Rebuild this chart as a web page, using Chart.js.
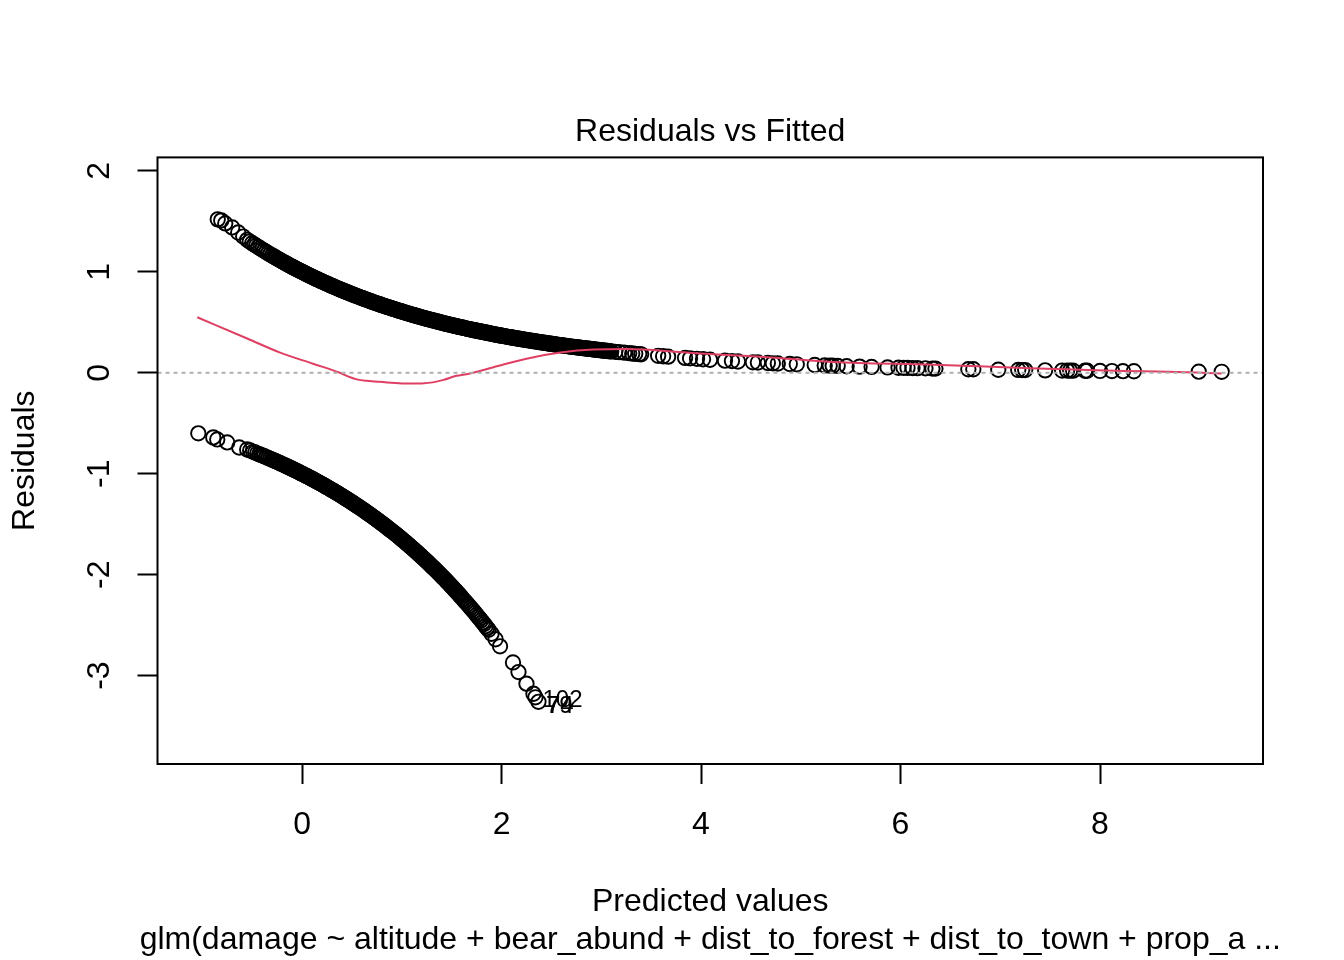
<!DOCTYPE html>
<html>
<head>
<meta charset="utf-8">
<title>Residuals vs Fitted</title>
<script src="https://cdn.jsdelivr.net/npm/chart.js@4"></script>
<style>
  html, body { margin: 0; padding: 0; background: #fff; }
  #wrap { position: relative; width: 1344px; height: 960px; }
</style>
</head>
<body>
<div id="wrap"><canvas id="chart"></canvas></div>
<script>
// the bands are overplotted so single points there are estimates along the band
const upperX = [-0.845,-0.81,-0.77,-0.70,-0.64,-0.59,-0.55,-0.50,-0.46,-0.42,-0.38,-0.34,-0.30,-0.27,-0.24,-0.21,-0.18,
  -0.15,-0.125,-0.10,-0.075,-0.05,-0.025,0,0.025,0.05,0.075,0.10,0.125,0.15,0.175,0.20,0.225,0.25,0.275,0.30,0.325,0.35,0.375,
  0.40,0.425,0.45,0.475,0.50,0.525,0.55,0.575,0.60,0.625,0.65,0.675,0.70,0.725,0.75,0.775,0.80,0.825,0.85,0.875,
  0.90,0.925,0.95,0.975,1.00,1.025,1.05,1.075,1.10,1.125,1.15,1.175,1.20,1.225,1.25,1.275,1.30,1.325,1.35,1.375,
  1.40,1.425,1.45,1.475,1.50,1.525,1.55,1.575,1.60,1.625,1.65,1.675,1.70,1.725,1.75,1.775,1.80,1.825,1.85,1.875,
  1.90,1.925,1.95,1.975,2.00,2.025,2.05,2.075,2.10,2.125,2.15,2.175,2.20,2.225,2.25,2.275,2.30,2.325,2.35,2.375,
  2.40,2.425,2.45,2.475,2.50,2.525,2.55,2.575,2.60,2.625,2.65,2.675,2.70,2.725,2.75,2.775,2.80,2.825,2.85,2.875,
  2.90,2.925,2.95,2.975,3.00,3.025,3.05,3.075,3.10,3.14,3.18,3.23,3.28,3.31,3.34,3.38,3.40,
  3.57,3.62,3.67,3.84,3.89,3.96,4.02,4.09,4.24,4.31,4.37,4.52,4.57,4.67,4.72,4.77,4.89,4.96,
  5.14,5.24,5.29,5.32,5.37,5.46,5.59,5.71,5.87,5.98,6.03,6.07,6.12,6.17,6.25,6.32,6.35,
  6.68,6.73,6.98,7.18,7.22,7.25,7.45,7.62,7.67,7.70,7.73,7.85,7.87,8.00,8.12,8.23,8.34,8.99,9.22];
const upperY = [1.52,1.51,1.48,1.44,1.39,1.35,1.317,1.284,1.259,1.234,1.209,1.185,1.162,1.145,1.127,1.110,1.094,
  1.078,1.064,1.051,1.038,1.025,1.013,1.000,0.988,0.975,0.963,0.951,0.939,0.928,0.916,0.905,0.894,0.882,0.872,0.861,0.850,0.839,0.829,
  0.819,0.809,0.799,0.789,0.779,0.769,0.760,0.750,0.741,0.732,0.723,0.714,0.705,0.696,0.687,0.679,0.670,0.662,0.654,0.646,
  0.638,0.630,0.622,0.614,0.607,0.599,0.592,0.584,0.577,0.570,0.563,0.556,0.549,0.542,0.535,0.529,0.522,0.516,0.509,0.503,
  0.497,0.490,0.484,0.478,0.472,0.466,0.461,0.455,0.449,0.444,0.438,0.433,0.427,0.422,0.417,0.412,0.407,0.402,0.397,0.392,
  0.387,0.382,0.377,0.372,0.368,0.363,0.359,0.354,0.350,0.345,0.341,0.337,0.333,0.329,0.325,0.321,0.317,0.313,0.309,0.305,
  0.301,0.298,0.294,0.290,0.287,0.283,0.279,0.276,0.273,0.269,0.266,0.262,0.259,0.256,0.253,0.250,0.247,0.244,0.240,0.238,
  0.235,0.232,0.229,0.226,0.223,0.220,0.218,0.215,0.212,0.208,0.204,0.199,0.194,0.191,0.188,0.185,0.183,
  0.168,0.164,0.160,0.147,0.143,0.138,0.134,0.129,0.120,0.116,0.112,0.104,0.102,0.097,0.094,0.092,0.087,0.084,
  0.077,0.073,0.071,0.070,0.068,0.065,0.061,0.058,0.053,0.050,0.049,0.048,0.047,0.046,0.044,0.042,0.042,
  0.035,0.035,0.030,0.028,0.027,0.027,0.024,0.022,0.022,0.021,0.021,0.020,0.020,0.018,0.017,0.016,0.015,0.011,0.010];

// more of the solid part of the upper band
const upperDenseX = [-0.525,-0.48,-0.44,-0.40,-0.36,-0.32,-0.285,-0.255,-0.225,-0.195,-0.165,
  -0.138,-0.113,-0.088,-0.063,-0.038,-0.013,0.013,0.038,0.063,0.088,0.113,0.138,0.163,0.188,0.213,0.238,0.263,0.288,0.313,0.338,0.363,0.388,
  0.413,0.438,0.463,0.488,0.513,0.538,0.563,0.588,0.613,0.638,0.663,0.688,0.713,0.738,0.763,0.788,0.813,0.838,0.863,0.888,
  0.913,0.938,0.963,0.988,1.013,1.038,1.063,1.088,1.113,1.138,1.163,1.188,1.213,1.238,1.263,1.288,1.313,1.338,1.363,1.388,
  1.413,1.438,1.463,1.488,1.513,1.538,1.563,1.588,1.613,1.638,1.663,1.688,1.713,1.738,1.763,1.788,1.813,1.838,1.863,1.888,
  1.913,1.938,1.963,1.988,2.013,2.038,2.063,2.088,2.113,2.138,2.163,2.188,2.213,2.238,2.263,2.288,2.313,2.338,2.363,2.388,
  2.413,2.438,2.463,2.488,2.513,2.538,2.563,2.588,2.613,2.638,2.663,2.688,2.713,2.738,2.763,2.788,2.813,2.838,2.863,2.888,
  2.913,2.938,2.963,2.988,3.013,3.038,3.063,3.088];
const upperDenseY = [1.30,1.271,1.246,1.221,1.197,1.173,1.153,1.136,1.119,1.102,1.086,
  1.071,1.057,1.044,1.031,1.019,1.006,0.994,0.981,0.969,0.957,0.945,0.933,0.922,0.910,0.899,0.888,0.877,0.866,0.855,0.844,0.834,0.824,
  0.814,0.804,0.794,0.784,0.774,0.764,0.755,0.745,0.736,0.727,0.718,0.709,0.700,0.691,0.683,0.674,0.666,0.658,0.650,0.642,
  0.634,0.626,0.618,0.610,0.603,0.595,0.588,0.580,0.573,0.566,0.559,0.552,0.545,0.538,0.532,0.525,0.519,0.512,0.506,0.500,
  0.493,0.487,0.481,0.475,0.469,0.463,0.458,0.452,0.446,0.441,0.435,0.430,0.424,0.419,0.414,0.409,0.404,0.399,0.394,0.389,
  0.384,0.379,0.374,0.370,0.365,0.361,0.356,0.352,0.347,0.343,0.339,0.335,0.331,0.327,0.323,0.319,0.315,0.311,0.307,0.303,
  0.299,0.296,0.292,0.288,0.285,0.281,0.277,0.274,0.271,0.267,0.264,0.260,0.257,0.254,0.251,0.248,0.245,0.242,0.239,0.236,
  0.233,0.230,0.227,0.224,0.221,0.219,0.216,0.213];

const lowerX = [-1.04,-0.89,-0.85,-0.75,-0.63,-0.55,-0.52,-0.49,-0.45,-0.41,-0.38,-0.34,-0.30,-0.27,-0.24,-0.21,-0.18,
  -0.15,-0.125,-0.10,-0.075,-0.05,-0.025,0,0.025,0.05,0.075,0.10,0.125,0.15,0.175,0.20,0.225,0.25,0.275,0.30,0.325,0.35,0.375,
  0.40,0.425,0.45,0.475,0.50,0.525,0.55,0.575,0.60,0.625,0.65,0.675,0.70,0.725,0.75,0.775,0.80,0.825,0.85,0.875,
  0.90,0.925,0.95,0.975,1.00,1.025,1.05,1.075,1.10,1.125,1.15,1.175,1.20,1.225,1.25,1.275,1.30,1.325,1.35,1.375,
  1.40,1.425,1.45,1.475,1.50,1.525,1.55,1.575,1.60,1.63,1.66,1.69,1.72,1.75,1.78,1.81,1.84,1.87,1.90,1.94,1.985,
  2.115,2.17,2.25,2.32,2.34,2.37];
const lowerY = [-0.60,-0.64,-0.66,-0.69,-0.74,-0.76,-0.77,-0.783,-0.80,-0.815,-0.827,-0.844,-0.861,-0.874,-0.887,-0.90,-0.914,
  -0.928,-0.939,-0.951,-0.963,-0.975,-0.988,-1.000,-1.013,-1.025,-1.038,-1.051,-1.064,-1.078,-1.091,-1.105,-1.119,-1.133,-1.147,-1.162,-1.176,-1.191,-1.206,
  -1.221,-1.237,-1.252,-1.268,-1.284,-1.300,-1.317,-1.333,-1.350,-1.367,-1.384,-1.402,-1.419,-1.437,-1.455,-1.473,-1.492,-1.511,-1.530,-1.549,
  -1.568,-1.588,-1.608,-1.628,-1.649,-1.670,-1.691,-1.712,-1.733,-1.755,-1.777,-1.800,-1.822,-1.845,-1.868,-1.892,-1.916,-1.940,-1.964,-1.989,
  -2.014,-2.039,-2.065,-2.091,-2.117,-2.144,-2.171,-2.198,-2.226,-2.260,-2.294,-2.328,-2.363,-2.399,-2.435,-2.472,-2.510,-2.547,-2.586,-2.64,-2.71,
  -2.87,-2.965,-3.08,-3.18,-3.215,-3.26];

const lowerDenseX = [-0.47,-0.43,-0.395,-0.36,-0.32,-0.285,-0.255,-0.225,-0.195,-0.165,
  -0.138,-0.113,-0.088,-0.063,-0.038,-0.013,0.013,0.038,0.063,0.088,0.113,0.138,0.163,0.188,0.213,0.238,0.263,0.288,0.313,0.338,0.363,0.388,
  0.413,0.438,0.463,0.488,0.513,0.538,0.563,0.588,0.613,0.638,0.663,0.688,0.713,0.738,0.763,0.788,0.813,0.838,0.863,0.888,
  0.913,0.938,0.963,0.988,1.013,1.038,1.063,1.088,1.113,1.138,1.163,1.188,1.213,1.238,1.263,1.288,1.313,1.338,1.363,1.388,1.413,
  1.44,1.463,1.488,1.513,1.538,1.563,1.588,1.615,1.645,1.675,1.705,1.735,1.765,1.795,1.825,1.855];
const lowerDenseY = [-0.79,-0.807,-0.82,-0.835,-0.852,-0.867,-0.88,-0.893,-0.907,-0.921,
  -0.933,-0.945,-0.957,-0.969,-0.981,-0.994,-1.006,-1.019,-1.031,-1.044,-1.057,-1.071,-1.085,-1.098,-1.112,-1.126,-1.140,-1.155,-1.169,-1.184,-1.199,-1.214,
  -1.229,-1.245,-1.260,-1.276,-1.292,-1.309,-1.325,-1.342,-1.358,-1.376,-1.393,-1.411,-1.428,-1.446,-1.464,-1.483,-1.501,-1.520,-1.540,-1.559,
  -1.578,-1.598,-1.618,-1.639,-1.659,-1.680,-1.701,-1.723,-1.744,-1.766,-1.788,-1.811,-1.834,-1.857,-1.880,-1.904,-1.928,-1.952,-1.977,-2.001,-2.027,
  -2.054,-2.078,-2.104,-2.13,-2.157,-2.184,-2.212,-2.243,-2.277,-2.311,-2.345,-2.381,-2.417,-2.453,-2.49,-2.528];

// red smoother
const smoothX = [-1.05,-0.55,-0.22,0.11,0.38,0.46,0.55,0.65,0.78,1.11,1.20,1.31,1.42,1.55,1.65,1.92,2.25,2.59,2.92,3.26,3.42,3.99,4.66,5.32,6.33,7.30,7.97,8.43,8.97,9.22];
const smoothY = [0.55,0.34,0.20,0.09,0,-0.035,-0.065,-0.08,-0.09,-0.107,-0.105,-0.095,-0.07,-0.03,-0.015,0.055,0.14,0.20,0.23,0.235,0.23,0.19,0.155,0.107,0.08,0.045,0.025,0.015,0.002,-0.008];

const zeroX = [-1.449,9.634];
const zeroY = [0,0];

// labelled outliers
const outlierNames = ["102","79","74"];
const outlierX = [2.34,2.32,2.37];
const outlierY = [-3.215,-3.18,-3.26];

const xTicks = [0,2,4,6,8];
const yTicks = [-3,-2,-1,0,1,2];
const subCaption = "glm(damage ~ altitude + bear_abund + dist_to_forest + dist_to_town + prop_a ...";

const FONT = "Liberation Sans, Arial, Helvetica, sans-serif";

function pts(xs, ys) {
  return xs.map((x, i) => ({ x: x, y: ys[i] }));
}

function ringSet(name, xs, ys) {
  return {
    label: name,
    data: pts(xs, ys),
    order: 3,
    pointRadius: 7.2,
    pointBorderWidth: 1.9,
    pointBorderColor: "#000",
    pointBackgroundColor: "rgba(0,0,0,0)"
  };
}

// box round the plot, rotated y tick labels, outlier ids and the caption under the x title
const extras = {
  id: "extras",
  afterDatasetsDraw(chart) {
    const c = chart.ctx, a = chart.chartArea, xs = chart.scales.x, ys = chart.scales.y;
    c.save();
    c.strokeStyle = "#000";
    c.lineWidth = 2;
    c.strokeRect(a.left, a.top, a.right - a.left, a.bottom - a.top);

    c.fillStyle = "#000";
    c.font = "32px " + FONT;
    c.textAlign = "center";
    c.textBaseline = "middle";
    yTicks.forEach(v => {
      c.save();
      c.translate(100, ys.getPixelForValue(v));
      c.rotate(-Math.PI / 2);
      c.fillText(String(v), 0, 0);
      c.restore();
    });
    c.fillText(subCaption, (a.left + a.right) / 2, 940);

    c.font = "24px " + FONT;
    c.textAlign = "left";
    const nudge = { "102": [7, 3], "79": [12.5, 13], "74": [8.5, 5] };
    outlierNames.forEach((n, i) => {
      c.fillText(n, xs.getPixelForValue(outlierX[i]) + nudge[n][0], ys.getPixelForValue(outlierY[i]) + nudge[n][1]);
    });
    c.restore();
  }
};

new Chart(document.getElementById("chart").getContext("2d"), {
  type: "scatter",
  data: {
    datasets: [
      ringSet("upper", upperX, upperY),
      ringSet("upper dense", upperDenseX, upperDenseY),
      ringSet("lower", lowerX, lowerY),
      ringSet("lower dense", lowerDenseX, lowerDenseY),
      {
        label: "smooth",
        data: pts(smoothX, smoothY),
        order: 2,
        showLine: true,
        pointRadius: 0,
        borderColor: "#DF3F62",
        borderWidth: 2,
        cubicInterpolationMode: "monotone"
      },
      {
        label: "zero",
        data: pts(zeroX, zeroY),
        order: 1,
        showLine: true,
        pointRadius: 0,
        borderColor: "#b0b0b0",
        borderWidth: 2,
        borderDash: [4, 4]
      }
    ]
  },
  options: {
    responsive: true,
    maintainAspectRatio: false,
    animation: false,
    layout: { padding: { left: 0, right: 81, top: 0, bottom: 0 } },
    plugins: {
      legend: { display: false },
      tooltip: { enabled: false },
      title: {
        display: true,
        text: "Residuals vs Fitted",
        fullSize: false,
        color: "#000",
        font: { family: FONT, size: 32, weight: "normal" },
        padding: { top: 113, bottom: 6 }
      }
    },
    scales: {
      x: {
        type: "linear",
        min: -1.449,
        max: 9.634,
        afterBuildTicks: s => { s.ticks = xTicks.map(v => ({ value: v })); },
        afterFit: s => { s.height = 196; },
        border: { display: false },
        grid: { drawOnChartArea: false, tickLength: 20, tickColor: "#000", tickWidth: 2 },
        ticks: { color: "#000", padding: 22, maxRotation: 0, font: { family: FONT, size: 32 } },
        title: {
          display: true,
          text: "Predicted values",
          color: "#000",
          font: { family: FONT, size: 32 },
          padding: { top: 0, bottom: 39 }
        }
      },
      y: {
        type: "linear",
        min: -3.876,
        max: 2.134,
        afterBuildTicks: s => { s.ticks = yTicks.map(v => ({ value: v })); },
        afterFit: s => { s.width = 157.5; },
        border: { display: false },
        grid: { drawOnChartArea: false, tickLength: 20, tickColor: "#000", tickWidth: 2 },
        ticks: { display: false },
        title: {
          display: true,
          text: "Residuals",
          color: "#000",
          font: { family: FONT, size: 32 },
          padding: { top: 6, bottom: 0 }
        }
      }
    }
  },
  plugins: [extras]
});
</script>
</body>
</html>
